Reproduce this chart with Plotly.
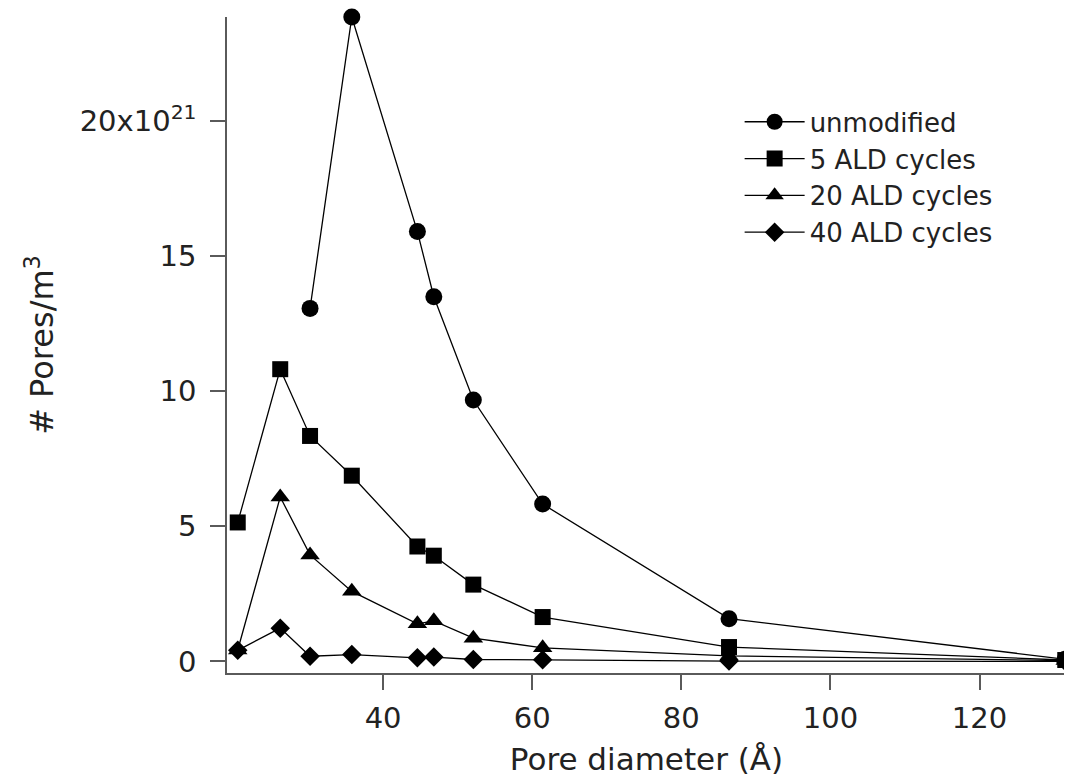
import plotly.graph_objects as go

# Pore diameters (Å)
pore_diameter = [20.5, 26.2, 30.2, 35.8, 44.6, 46.8, 52.1, 61.4, 86.4, 131.5]

# Number of pores per m^3, in units of 1e21
unmodified = [None, None, 13.06, 23.84, 15.90, 13.49, 9.67, 5.82, 1.58, 0.08]
ald_5 = [5.14, 10.81, 8.34, 6.87, 4.25, 3.91, 2.84, 1.64, 0.53, 0.05]
ald_20 = [0.42, 6.08, 3.94, 2.59, 1.39, 1.50, 0.86, 0.50, 0.20, 0.03]
ald_40 = [0.41, 1.23, 0.19, 0.25, 0.13, 0.16, 0.07, 0.06, 0.01, 0.0]

series_names = ["unmodified", "5 ALD cycles", "20 ALD cycles", "40 ALD cycles"]
series_values = [unmodified, ald_5, ald_20, ald_40]
series_symbols = ["circle", "square", "triangle-up", "diamond"]
series_sizes = [17, 16, 17, 15]

y_tickvals = [0, 5, 10, 15, 20]
y_ticktext = ["0", "5", "10", "15", "20x10<sup>21</sup>"]
x_tickvals = [40, 60, 80, 100, 120]
x_ticktext = ["40", "60", "80", "100", "120"]

FONT = "DejaVu Sans"
AXIS_COLOR = "#5a5a5a"
TEXT_COLOR = "#222222"

fig = go.Figure()
for name, vals, sym, sz in zip(series_names, series_values, series_symbols, series_sizes):
    fig.add_trace(go.Scatter(
        x=pore_diameter, y=vals, name=name, mode="lines+markers",
        line=dict(color="black", width=1.3),
        marker=dict(symbol=sym, size=sz, color="black", line=dict(width=0)),
        cliponaxis=False,
    ))

fig.update_layout(
    width=1064, height=773,
    margin=dict(l=219, r=6, t=9, b=108),
    paper_bgcolor="white", plot_bgcolor="white",
    font=dict(family=FONT, color=TEXT_COLOR),
    showlegend=True,
    legend=dict(
        x=0.611, y=0.876, xanchor="left", yanchor="top",
        font=dict(family=FONT, size=26, color=TEXT_COLOR),
        bgcolor="rgba(0,0,0,0)", borderwidth=0,
        tracegroupgap=0, itemwidth=60,
    ),
    xaxis=dict(
        range=[19.06, 131.6],
        tickmode="array", tickvals=x_tickvals, ticktext=x_ticktext,
        showline=True, linecolor=AXIS_COLOR, linewidth=1.5,
        ticks="outside", ticklen=15, tickwidth=1.5, tickcolor=AXIS_COLOR,
        showgrid=False, zeroline=False, mirror=False,
        ticklabelstandoff=3,
        tickfont=dict(family=FONT, size=29, color=TEXT_COLOR),
        title=dict(text="Pore diameter (Å)", font=dict(family=FONT, size=31, color=TEXT_COLOR), standoff=15),
    ),
    yaxis=dict(
        range=[-0.43, 23.84],
        tickmode="array", tickvals=y_tickvals, ticktext=y_ticktext,
        showline=True, linecolor=AXIS_COLOR, linewidth=1.5,
        ticks="outside", ticklen=15, tickwidth=1.5, tickcolor=AXIS_COLOR,
        showgrid=False, zeroline=False, mirror=False,
        ticklabelstandoff=8,
        tickfont=dict(family=FONT, size=29, color=TEXT_COLOR),
        title=dict(text="# Pores/m<sup>3</sup>", font=dict(family=FONT, size=32, color=TEXT_COLOR), standoff=16),
    ),
)

fig.write_html("out.html")
